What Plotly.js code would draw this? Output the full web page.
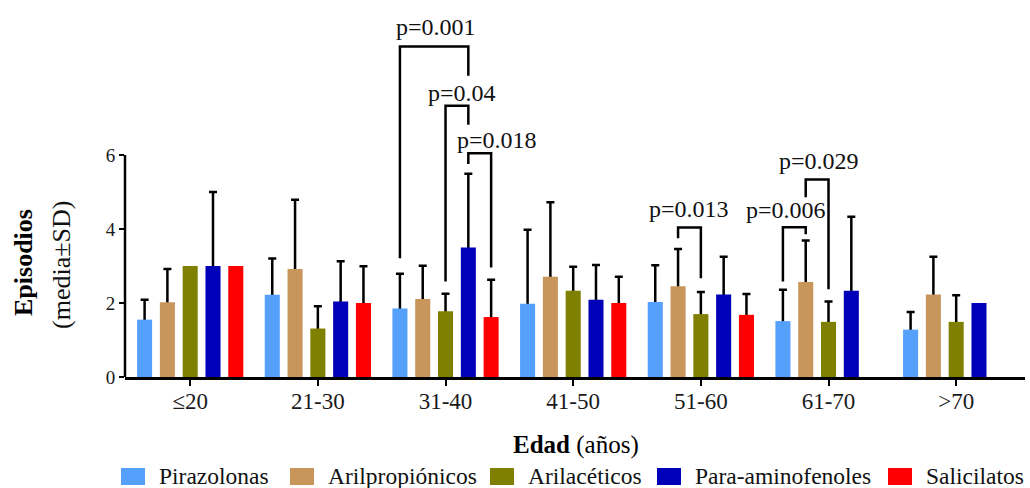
<!DOCTYPE html>
<html>
<head>
<meta charset="utf-8">
<script src="https://cdn.plot.ly/plotly-3.0.1.min.js"></script>
<style>html,body{margin:0;padding:0;background:#fff;}#chart{width:1030px;height:488px;}</style>
</head>
<body>
<div id="chart"></div>
<script>
// ---------- data ----------
var categories = ['≤20', '21-30', '31-40', '41-50', '51-60', '61-70', '>70'];
var seriesNames = ['Pirazolonas', 'Arilpropiónicos', 'Arilacéticos', 'Para-aminofenoles', 'Salicilatos'];
var pirazolonas      = [1.55, 2.22, 1.85, 1.98, 2.03, 1.51, 1.28];
var pirazolonasSD    = [0.54, 0.98, 0.94, 2.00, 0.99, 0.85, 0.48];
var arilpropionicos  = [2.02, 2.92, 2.11, 2.71, 2.45, 2.57, 2.23];
var arilpropionicosSD= [0.90, 1.87, 0.90, 2.01, 1.01, 1.12, 1.02];
var arilaceticos     = [3.00, 1.31, 1.78, 2.33, 1.70, 1.49, 1.49];
var arilaceticosSD   = [null, 0.60, 0.47, 0.65, 0.60, 0.55, 0.72];
var paraaminofenoles = [3.00, 2.04, 3.50, 2.09, 2.23, 2.33, 2.00];
var paraaminofenolesSD=[2.00, 1.09, 1.99, 0.94, 1.02, 2.00, null];
var salicilatos      = [3.00, 2.00, 1.62, 2.00, 1.68, null, null];
var salicilatosSD    = [null, 0.99, 1.01, 0.71, 0.56, null, null];
var yTicks = [0, 2, 4, 6];
var pLabels = ['p=0.001', 'p=0.04', 'p=0.018', 'p=0.013', 'p=0.006', 'p=0.029'];

// ---------- styling / layout ----------
var colors = ['#55A0FA', '#C8955A', '#808000', '#0000B8', '#FF0000'];
var means = [pirazolonas, arilpropionicos, arilaceticos, paraaminofenoles, salicilatos];
var sds = [pirazolonasSD, arilpropionicosSD, arilaceticosSD, paraaminofenolesSD, salicilatosSD];
var FONT = 'Liberation Serif';
var W = 1030, H = 488, ML = 125, MR = 5, MT = 7, MB = 111;
var PW = W - ML - MR, PH = H - MT - MB;
var BARGAP = 0.107, BARGROUPGAP = 0.34;
var slot = (1 - BARGAP) / seriesNames.length;
function barX(cat, s) { return cat + (s - (seriesNames.length - 1) / 2) * slot; }
function px(xp) { return (xp - ML) / PW; }
function py(yp) { return (H - MB - yp) / PH; }

// bracket geometry (layout): top, bottom of left leg, bottom of right leg, label position
var brackets = [
  {cat: 2, s1: 0, s2: 3, top: 8.93, b1: 3.21, b2: 8.14, lx: 1.925, ly: 9.45},
  {cat: 2, s1: 2, s2: 3, top: 7.33, b1: 2.58, b2: 6.82, lx: 2.129, ly: 7.67},
  {cat: 2, s1: 3, s2: 4, top: 6.05, b1: 5.76, b2: 2.96, lx: 2.403, ly: 6.41},
  {cat: 4, s1: 1, s2: 2, top: 4.04, b1: 3.75, b2: 2.67, lx: 3.907, ly: 4.53},
  {cat: 5, s1: 0, s2: 1, top: 4.05, b1: 2.58, b2: 3.86, lx: 4.667, ly: 4.51},
  {cat: 5, s1: 1, s2: 2, top: 5.34, b1: 4.86, b2: 2.37, lx: 4.925, ly: 5.84}
];

var traces = [];
// error-bar carriers first (drawn underneath), so the lower cap is hidden by the bars
for (var s = 0; s < seriesNames.length; s++) {
  var sd = sds[s];
  traces.push({
    type: 'bar', x: categories,
    y: means[s].map(function (v, i) { return sd[i] == null ? null : v; }),
    offsetgroup: 'g' + s,
    marker: {color: 'rgba(0,0,0,0)'}, showlegend: false, hoverinfo: 'skip',
    error_y: {type: 'data', symmetric: false, array: sd,
              arrayminus: sd.map(function (v) { return v == null ? null : 0.08; }),
              color: '#000', thickness: 2.5, width: 4}
  });
}
for (var s = 0; s < seriesNames.length; s++) {
  traces.push({
    type: 'bar', name: seriesNames[s], x: categories, y: means[s], offsetgroup: 'g' + s,
    marker: {color: colors[s], line: {width: 0}}, showlegend: false
  });
}

var shapes = [];
var annotations = [];
shapes.push({type: 'line', xref: 'paper', yref: 'y', x0: 0, x1: 0, y0: 0, y1: yTicks[yTicks.length - 1],
             line: {color: '#000', width: 2.5}});
brackets.forEach(function (b, i) {
  var x1 = barX(b.cat, b.s1), x2 = barX(b.cat, b.s2);
  shapes.push({type: 'path', xref: 'x', yref: 'y',
    path: 'M' + x1 + ',' + b.b1 + ' L' + x1 + ',' + b.top + ' L' + x2 + ',' + b.top + ' L' + x2 + ',' + b.b2,
    line: {color: '#000', width: 2.5}});
  annotations.push({xref: 'x', yref: 'y', x: b.lx, y: b.ly, text: pLabels[i], showarrow: false,
    xanchor: 'center', yanchor: 'middle', font: {family: FONT, size: 24, color: '#111'}});
});

annotations.push({xref: 'paper', yref: 'paper', x: px(23), y: py(263), text: '<b>Episodios</b>', textangle: -90,
  showarrow: false, xanchor: 'center', yanchor: 'middle', font: {family: FONT, size: 26, color: '#000'}});
annotations.push({xref: 'paper', yref: 'paper', x: px(61), y: py(265), text: '(media±SD)', textangle: -90,
  showarrow: false, xanchor: 'center', yanchor: 'middle', font: {family: FONT, size: 26, color: '#111'}});
annotations.push({xref: 'paper', yref: 'paper', x: px(576), y: py(445), text: '<b>Edad</b> (años)',
  showarrow: false, xanchor: 'center', yanchor: 'middle', font: {family: FONT, size: 25, color: '#000'}});

var legendSwatchX = [121, 290, 490, 657, 888];
seriesNames.forEach(function (n, i) {
  shapes.push({type: 'rect', xref: 'paper', yref: 'paper',
    x0: px(legendSwatchX[i]), x1: px(legendSwatchX[i] + 24), y0: py(485), y1: py(468),
    fillcolor: colors[i], line: {width: 0}});
  annotations.push({xref: 'paper', yref: 'paper', x: px(legendSwatchX[i] + 36), y: py(476), text: n,
    showarrow: false, xanchor: 'left', yanchor: 'middle', font: {family: FONT, size: 23.5, color: '#111'}});
});

var layout = {
  width: W, height: H,
  margin: {l: ML, r: MR, t: MT, b: MB, pad: 0},
  paper_bgcolor: '#fff', plot_bgcolor: '#fff',
  barmode: 'group', bargap: BARGAP, bargroupgap: BARGROUPGAP,
  showlegend: false,
  font: {family: FONT, color: '#111'},
  xaxis: {type: 'category', range: [-0.5107, 6.539], showline: true, linecolor: '#000', linewidth: 2.5,
          ticks: 'outside', ticklen: 6, tickwidth: 2, tickcolor: '#000', showgrid: false, zeroline: false,
          ticklabelstandoff: -4,
          tickfont: {family: FONT, size: 23, color: '#1a1a1a'}, fixedrange: true},
  yaxis: {range: [0, 10], tickvals: yTicks, ticktext: yTicks.map(String), showline: false,
          ticks: 'outside', ticklen: 5, tickwidth: 2, tickcolor: '#000', showgrid: false, zeroline: false,
          tickfont: {family: FONT, size: 19, color: '#1a1a1a'}, fixedrange: true},
  shapes: shapes,
  annotations: annotations
};

Plotly.newPlot('chart', traces, layout, {displayModeBar: false, staticPlot: true});
</script>
</body>
</html>
